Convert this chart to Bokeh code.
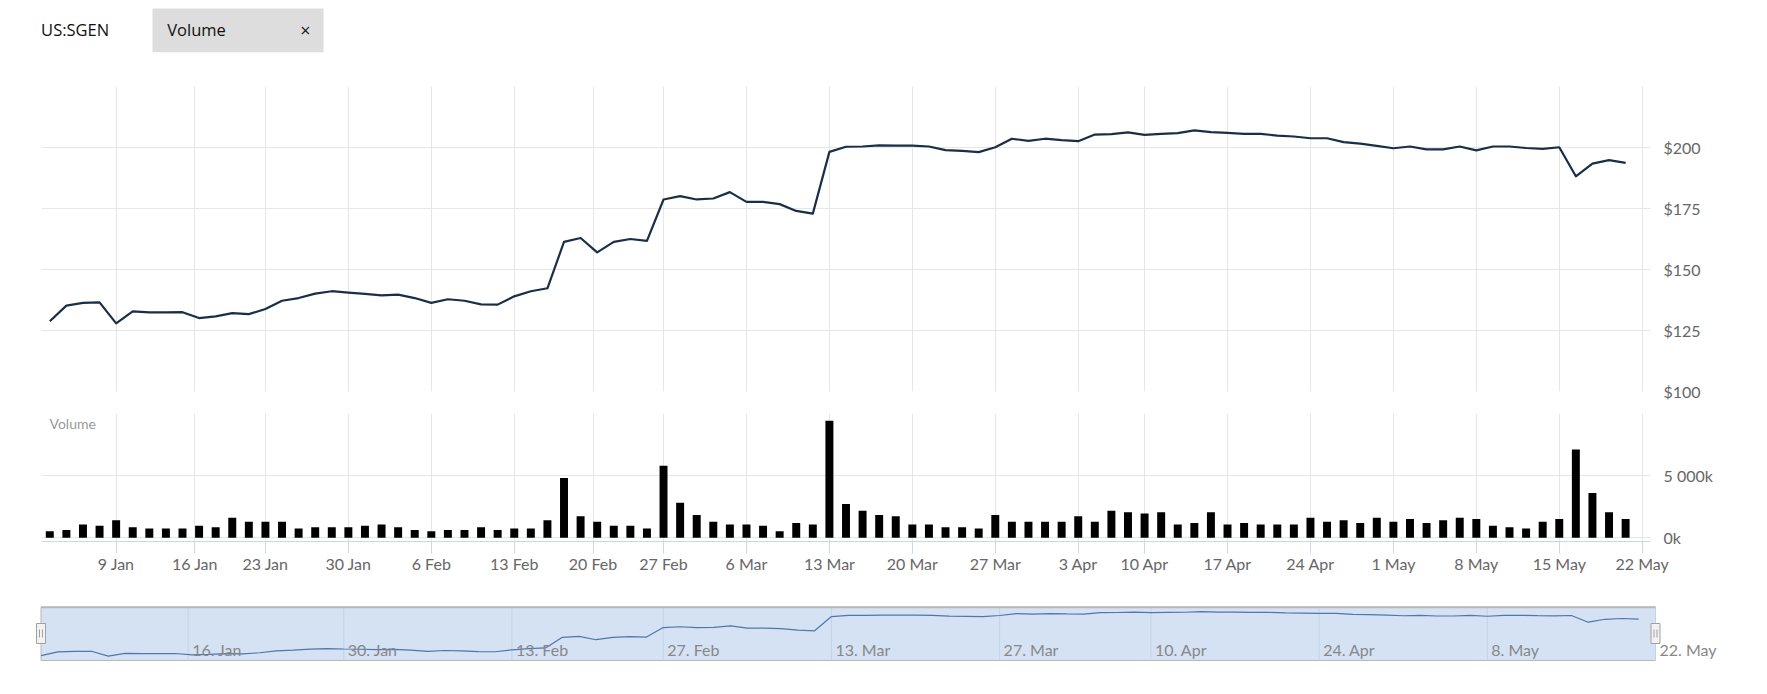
import numpy as np
import pandas as pd
from bokeh.plotting import figure
from bokeh.layouts import column
from bokeh.models import Range1d, FixedTicker
from bokeh.core.properties import value
from bokeh.embed import file_html
from bokeh.resources import INLINE

# ---------------- data ----------------
SYMBOL = "US:SGEN"
INDICATOR = "Volume"

HOLIDAYS = ["2023-01-16", "2023-02-20", "2023-04-07"]
dates = pd.bdate_range("2023-01-03", "2023-05-19")
dates = dates[~dates.isin(pd.to_datetime(HOLIDAYS))]

close = [
    128.8, 135.2, 136.3, 136.5, 127.9, 132.8, 132.4, 132.4, 132.5, 130.1,
    130.8, 132.1, 131.7, 133.8, 137.2, 138.3, 140.1, 141.1, 140.5, 140.0,
    139.4, 139.7, 138.3, 136.3, 137.8, 137.2, 135.7, 135.6, 139.0, 141.1,
    142.3, 161.3, 162.9, 157.0,
    161.3, 162.5, 161.7, 178.7, 180.1, 178.7, 179.1, 181.7, 177.7, 177.7,
    176.8, 174.0, 172.9, 198.2, 200.3, 200.4, 200.9, 200.8, 200.8, 200.4,
    198.9, 198.6, 198.1, 200.1, 203.6, 202.7, 203.6, 203.0, 202.6, 205.3,
    205.5, 206.2, 205.2, 205.6, 205.9,
    207.0, 206.3, 206.0, 205.6, 205.6, 204.9, 204.5, 203.8, 203.8, 202.2,
    201.6, 200.7, 199.7, 200.4, 199.2, 199.2, 200.4, 198.8, 200.4, 200.4,
    199.8, 199.4, 200.1, 188.2, 193.4, 194.8, 193.7,
]

volume_k = [
    522, 632, 1071, 961, 1400, 851, 741, 741, 741, 961,
    851, 1620, 1290, 1290, 1290, 741, 851, 851, 851, 961,
    1071, 851, 632, 522, 632, 632, 851, 632, 741, 741,
    1400, 4805, 1730, 1290,
    961, 961, 741, 5794, 2828, 1840, 1290, 1071, 1071, 961,
    522, 1181, 1071, 9419, 2719, 2169, 1840, 1730, 1071, 1071,
    851, 851, 741, 1840, 1290, 1290, 1290, 1290, 1730, 1290,
    2169, 2060, 1950, 2060, 1071,
    1181, 2060, 1071, 1181, 1071, 1071, 1071, 1620, 1290, 1400,
    1181, 1620, 1290, 1510, 1181, 1400, 1620, 1510, 961, 851,
    741, 1290, 1510, 7112, 3597, 2060, 1510,
]

tick_dates = ["2023-01-09", "2023-01-16", "2023-01-23", "2023-01-30", "2023-02-06",
              "2023-02-13", "2023-02-20", "2023-02-27", "2023-03-06", "2023-03-13",
              "2023-03-20", "2023-03-27", "2023-04-03", "2023-04-10", "2023-04-17",
              "2023-04-24", "2023-05-01", "2023-05-08", "2023-05-15", "2023-05-22"]
tick_labels = ["9 Jan", "16 Jan", "23 Jan", "30 Jan", "6 Feb", "13 Feb", "20 Feb",
               "27 Feb", "6 Mar", "13 Mar", "20 Mar", "27 Mar", "3 Apr", "10 Apr",
               "17 Apr", "24 Apr", "1 May", "8 May", "15 May", "22 May"]

nav_tick_dates = ["2023-01-16", "2023-01-30", "2023-02-13", "2023-02-27", "2023-03-13",
                  "2023-03-27", "2023-04-10", "2023-04-24", "2023-05-08", "2023-05-22"]
nav_tick_labels = ["16. Jan", "30. Jan", "13. Feb", "27. Feb", "13. Mar",
                   "27. Mar", "10. Apr", "24. Apr", "8. May", "22. May"]

price_ticks = [100, 125, 150, 175, 200, 225]
volume_ticks = [0, 5000, 10000]
volume_tick_labels = ["0k", "5 000k", ""]

# ---------------- helpers ----------------
n = len(dates)
idx = list(range(n))


def ordinal(d):
    """Position of a calendar date on the trading-day (ordinal) axis."""
    d = pd.Timestamp(d)
    pos = int(dates.searchsorted(d))
    if pos < n and dates[pos] == d:
        return pos
    if pos >= n:
        return n - 1 + int(np.busday_count(dates[-1].date(), d.date()))
    lo, hi = dates[pos - 1], dates[pos]
    return pos - 1 + (d - lo) / (hi - lo)


def key(v):
    return int(v) if float(v).is_integer() else float(v)


tick_pos = [key(ordinal(d)) for d in tick_dates]
nav_pos = [key(ordinal(d)) for d in nav_tick_dates]

W = 1759
GRID = "#e6e6e6"
AXIS = "#ccd6eb"
LBL = "#666666"
FONT = "Lato"
COMMON = dict(toolbar_location=None, output_backend="svg", outline_line_color=None)

# ---------------- header (page pixel coordinates) ----------------
HH = 70
hdr = figure(width=W, height=HH, x_range=Range1d(0, W), y_range=Range1d(HH, 0),
             x_axis_location=None, y_axis_location=None, min_border=0, **COMMON)
hdr.frame_align = False
for g in hdr.grid:
    g.visible = False
hdr.quad(left=[152], right=[323], top=[8], bottom=[51.7], fill_color="#dddddd", line_color=None)
hdr.text(x=[40.6], y=[29.2], text=[SYMBOL], text_font=value("Open Sans"),
         text_font_size="16.5px", text_baseline="alphabetic", text_color="#111111")
hdr.text(x=[166.7], y=[29.2], text=[INDICATOR], text_font=value("Open Sans"),
         text_font_size="16.5px", text_baseline="alphabetic", text_color="#111111")
hdr.text(x=[305], y=[29], text=["×"], text_font=value("Open Sans"),
         text_font_size="18px", text_baseline="middle", text_align="center", text_color="#222222")

# ---------------- price pane ----------------
xr = Range1d(-0.5, n + 0.5)
pm = figure(width=W, height=330, x_range=xr, y_range=Range1d(price_ticks[0], price_ticks[-1]),
            x_axis_location=None, y_axis_location="right",
            min_border_left=41, min_border_right=W - 1650,
            min_border_top=16, min_border_bottom=9, **COMMON)
pm.frame_align = False
pm.xgrid.ticker = FixedTicker(ticks=tick_pos)
pm.xgrid.grid_line_color = GRID
pm.ygrid.grid_line_color = GRID
ya = pm.yaxis[0]
ya.ticker = FixedTicker(ticks=price_ticks)
ya.major_label_overrides = {t: ("" if t == price_ticks[-1] else f"${t}") for t in price_ticks}
ya.axis_line_color = None
ya.major_tick_line_color = None
ya.minor_tick_line_color = None
ya.major_label_standoff = 7
ya.major_label_text_font = FONT
ya.major_label_text_font_size = "16px"
ya.major_label_text_color = LBL
pm.line(idx, close, line_color="#192f48", line_width=2.2, line_join="round")

# ---------------- volume pane ----------------
pv = figure(width=W, height=180, x_range=xr, y_range=Range1d(-300, volume_ticks[-1]),
            y_axis_location="right",
            min_border_left=41, min_border_right=W - 1650, min_border_top=13,
            min_border_bottom=39, **COMMON)
pv.frame_align = False
pv.xgrid.grid_line_color = GRID
pv.ygrid.grid_line_color = GRID
xa = pv.xaxis[0]
xa.ticker = FixedTicker(ticks=tick_pos)
xa.major_label_overrides = dict(zip(tick_pos, tick_labels))
xa.axis_line_color = AXIS
xa.major_tick_line_color = AXIS
xa.minor_tick_line_color = None
xa.major_tick_in = 0
xa.major_tick_out = 12
xa.major_label_standoff = 0
xa.major_label_text_font = FONT
xa.major_label_text_font_size = "16px"
xa.major_label_text_color = LBL
va = pv.yaxis[0]
va.ticker = FixedTicker(ticks=volume_ticks)
va.major_label_overrides = dict(zip(volume_ticks, volume_tick_labels))
va.axis_line_color = None
va.major_tick_line_color = None
va.minor_tick_line_color = None
va.major_label_standoff = 7
va.major_label_text_font = FONT
va.major_label_text_font_size = "16px"
va.major_label_text_color = LBL
pv.vbar(x=idx, top=volume_k, width=0.48, fill_color="black", line_color=None)
pv.text(x=[xr.start], y=[volume_ticks[-1]], text=[INDICATOR], x_offset=8, y_offset=1,
        text_baseline="top", text_font=value(FONT), text_font_size="14px", text_color="#999999")

# ---------------- navigator ----------------
nav_end = ordinal("2023-05-22")
lo, hi = min(close), max(close)
span = hi - lo
nav_lo, nav_hi = lo - 0.1 * span, hi + 0.1 * span
box_px_top, box_px_bot, NH = 26.7, 80.0, 100          # box position inside the 100px strip
ppd = (box_px_bot - box_px_top) / (nav_hi - nav_lo)
NAV_L, NAV_R = 40.5, 1655.0
sx = (NAV_R - NAV_L) / nav_end                          # px per trading day
pn = figure(width=W, height=NH,
            x_range=Range1d(-NAV_L / sx, (W - NAV_L) / sx),
            y_range=Range1d(nav_lo - (NH - box_px_bot) / ppd, nav_hi + box_px_top / ppd),
            x_axis_location=None, y_axis_location=None, min_border=0, **COMMON)
pn.frame_align = False
for g in pn.grid:
    g.visible = False
pn.extra_y_ranges = {"px": Range1d(NH, 0)}
pn.quad(left=[0], right=[nav_end], bottom=[nav_lo], top=[nav_hi],
        fill_color="#d4e2f4", line_color="#b8b8b8", line_width=1)
pn.segment(x0=nav_pos, x1=nav_pos, y0=[nav_lo] * len(nav_pos), y1=[nav_hi] * len(nav_pos),
           line_color="#c3d2e6", line_width=1)
pn.segment(x0=[0], x1=[nav_end], y0=[nav_hi], y1=[nav_hi], line_color="#b8b8b8", line_width=2)
pn.line(idx, close, line_color="#5275aa", line_width=1.2)
pn.text(x=nav_pos, y=[69] * len(nav_pos), text=nav_tick_labels, x_offset=4,
        text_baseline="middle", text_align="left", text_font=value(FONT),
        text_font_size="16px", text_color="#888888", y_range_name="px")
pn.rect(x=[0, nav_end], y=[53, 53], width=9, height=20, width_units="screen",
        height_units="screen", fill_color="#f2f2f2", line_color="#a0a0a0", y_range_name="px")
gx = [0 - 1.5 / sx, 0 + 1.5 / sx, nav_end - 1.5 / sx, nav_end + 1.5 / sx]
pn.scatter(x=gx, y=[53] * 4, marker="dash", size=8, angle=np.pi / 2,
           line_color="#a0a0a0", y_range_name="px")

layout = column(hdr, pm, pv, pn, spacing=0)
open("out.html", "w").write(file_html(layout, INLINE))
